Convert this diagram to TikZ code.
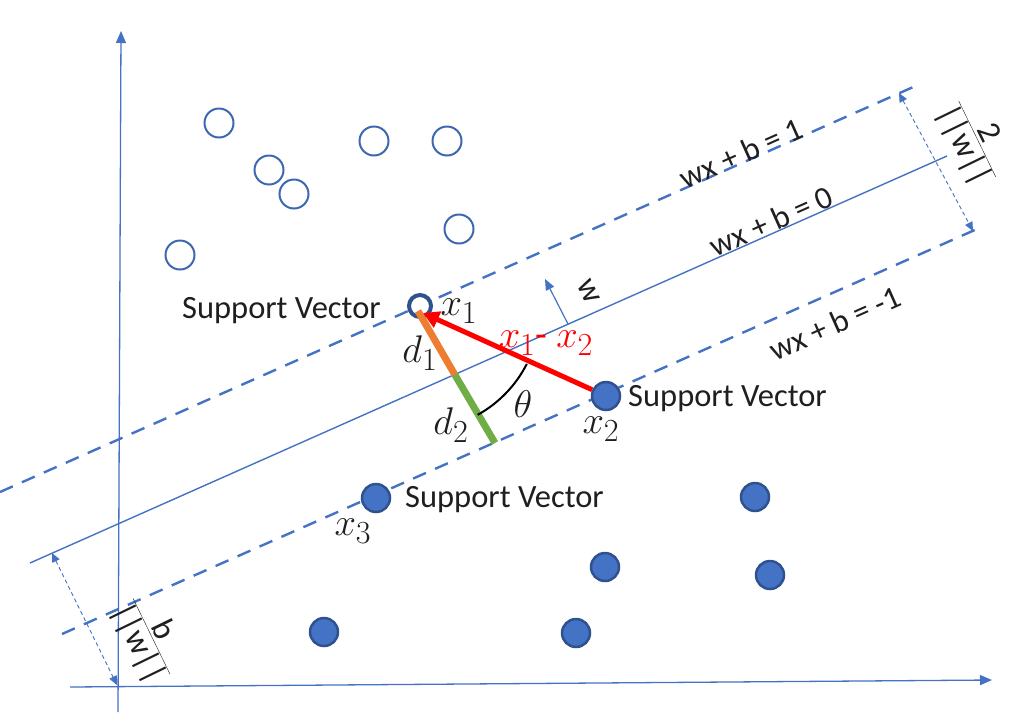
\documentclass[tikz,border=0pt]{standalone}
\usepackage{graphicx}
\usepackage{fontspec}
\setmainfont{Carlito}
\usetikzlibrary{arrows.meta,calc}
\definecolor{lblue}{HTML}{4472C4}
\definecolor{dblue}{HTML}{2F528F}
\definecolor{oblue}{HTML}{3E67B1}
\definecolor{sorange}{HTML}{ED7D31}
\definecolor{sgreen}{HTML}{70AD47}
\newcommand{\mlab}[1]{\scalebox{1.55}{$#1$}}
\begin{document}
\begin{tikzpicture}[x=1pt,y=-1pt,
  axis/.style={draw=lblue,line width=1.3pt,-{Triangle[length=12pt,width=10pt]}},
  hyper/.style={draw=lblue,line width=1.4pt},
  margin/.style={draw=lblue,line width=2.4pt,dash pattern=on 14pt off 10pt},
  dimarrow/.style={draw=lblue,line width=0.9pt,dash pattern=on 4pt off 3pt,{Triangle[length=9pt,width=8pt]}-{Triangle[length=9pt,width=8pt]}},
  opt/.style={circle,draw=oblue,line width=2pt,fill=white,minimum size=29pt,inner sep=0pt},
  fpt/.style={circle,draw=dblue,line width=2.5pt,fill=lblue,minimum size=28pt,inner sep=0pt},
  svopen/.style={circle,draw=dblue,line width=4pt,fill=white,minimum size=22pt,inner sep=0pt},
  lbl/.style={font=\fontsize{32.5}{38}\selectfont,text=black!88,inner sep=0pt},
  mlbl/.style={font=\fontsize{24.88}{30}\selectfont,text=black!88,inner sep=0pt},
  eqlbl/.style={font=\fontsize{32}{38}\selectfont,text=black!88,inner sep=0pt,rotate=24},
  fraclbl/.style={font=\fontsize{33}{38}\selectfont,text=black!88,inner sep=0pt,rotate=-64}
]
\useasboundingbox (0,0) rectangle (1030,713);

% axes
\coordinate (ybot) at (118,712);
\coordinate (ytop) at (121,31);
\coordinate (xleft) at (70,687);
\coordinate (xright) at (992,680);
\draw[axis] (ybot) -- (ytop);
\draw[axis] (xleft) -- (xright);

% lines
\coordinate (u1) at (0,492);
\coordinate (u2) at (920,84);
\coordinate (m1) at (30,563);
\coordinate (m2) at (947,156);
\coordinate (l1) at (62,634);
\coordinate (l2) at (977,229);
\draw[margin] (u1) -- (u2);
\draw[hyper] (m1) -- (m2);
\draw[margin] (l1) -- (l2);

% dimension arrows
\coordinate (da1) at (899,93);
\coordinate (da2) at (973,231);
\draw[dimarrow] (da1) -- (da2);
\coordinate (db1) at (52,553);
\coordinate (db2) at (117,685);
\draw[dimarrow] (db1) -- (db2);
\node[fraclbl] (frac2) at (975,140) {$\frac{\mbox{2}}{\mbox{||w||}}$};
\node[fraclbl] (fracb) at (150,637) {$\frac{\mbox{b}}{\mbox{||w||}}$};

% w normal
\coordinate (wb) at (568,324);
\coordinate (wt) at (545,279);
\draw[draw=lblue,line width=1.2pt,-{Triangle[length=11pt,width=9pt]}] (wb) -- (wt);
\node[lbl,rotate=-64] (wl) at (589,292) {w};

% equations
\node[eqlbl] (e1) at (741,153) {wx + b = 1};
\node[eqlbl] (e0) at (771,221) {wx + b = 0};
\node[eqlbl] (em) at (835,323) {wx + b = -1};

% open points
\node[opt] (o1) at (219,123) {};
\node[opt] (o2) at (269,170) {};
\node[opt] (o3) at (294,194) {};
\node[opt] (o4) at (374,141) {};
\node[opt] (o5) at (447,141) {};
\node[opt] (o6) at (459,229) {};
\node[opt] (o7) at (180,255) {};

% filled points
\node[fpt] (x2) at (606,396) {};
\node[fpt] (x3) at (376,498) {};
\node[fpt] (f1) at (755,497) {};
\node[fpt] (f2) at (605,567) {};
\node[fpt] (f3) at (770,575) {};
\node[fpt] (f4) at (324,632) {};
\node[fpt] (f5) at (576,633) {};

% support vector x1
\node[svopen] (x1) at (420,306) {};

% d1 / d2 segments
\coordinate (dtop) at (418,311);
\coordinate (dmid) at (455,375);
\coordinate (dbot) at (495,443);
\draw[sorange,line width=7pt] (dtop) -- (dmid);
\draw[sgreen,line width=7pt] (dmid) -- (dbot);

% theta arc
\coordinate (ac) at (419,309);
\draw[black,line width=2pt] ([shift={(27:121)}]ac) arc[start angle=27,end angle=61,radius=121];

% red vector
\coordinate (redtip) at (423,313);
\draw[red,line width=5pt,-{Triangle[length=16pt,width=17pt]}] (x2) -- (redtip);

% labels
\node[lbl,anchor=east] (sv1) at (381,311) {Support Vector};
\node[lbl,anchor=west] (sv2) at (628,399) {Support Vector};
\node[lbl,anchor=west] (sv3) at (405,500) {Support Vector};
\node[mlbl] (lx1) at (459,311) {\mlab{x_1}};
\node[mlbl] (lx2) at (601,429) {\mlab{x_2}};
\node[mlbl] (lx3) at (353,531) {\mlab{x_3}};
\node[mlbl] (ld1) at (420,353) {\mlab{d_1}};
\node[mlbl] (ld2) at (451,425) {\mlab{d_2}};
\node[mlbl] (lth) at (523,404) {\mlab{\theta}};
\node[mlbl,text=red] (lx12) at (546,343) {\mlab{x_1\mbox{- }x_2}};
\end{tikzpicture}
\end{document}
